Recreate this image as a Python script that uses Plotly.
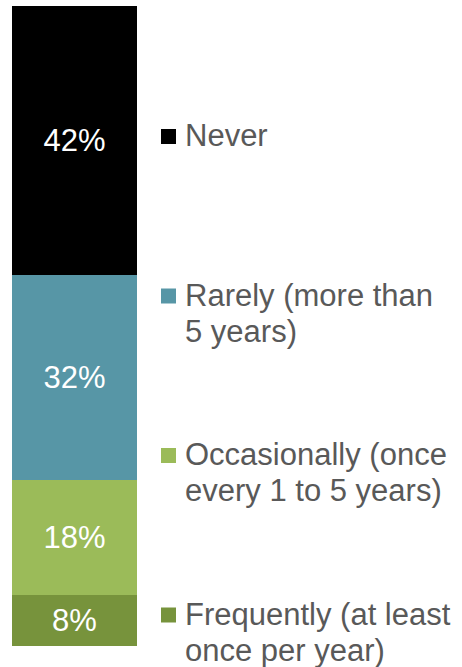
import plotly.graph_objects as go

# Data (bottom to top)
categories = ["Frequently (at least\nonce per year)",
              "Occasionally (once\nevery 1 to 5 years)",
              "Rarely (more than\n5 years)",
              "Never"]
values = [8, 18, 32, 42]
colors = ["#77933C", "#9BBB59", "#5796A6", "#000000"]
bar_labels = ["8%", "18%", "32%", "42%"]

W, H = 462, 667
ML, MR, MT, MB = 12, 0, 6, 21
PW, PH = W - ML - MR, H - MT - MB

def px_x(px):
    return (px - ML) / PW

def px_y(py):
    return (H - MB - py) / PH

fig = go.Figure()
for cat, v, c, lab in zip(categories, values, colors, bar_labels):
    fig.add_trace(go.Bar(
        x=[0], y=[v], name=cat.replace("\n", " "),
        marker=dict(color=c, line=dict(width=0)),
        width=1,
        text=[lab], textposition="inside", insidetextanchor="middle",
        constraintext="none",
        textfont=dict(color="white", size=31, family="Liberation Sans, Arial"),
        showlegend=False,
    ))

# Legend entries (top to bottom), evenly spaced
legend_items = list(zip(categories, colors))[::-1]
annotations = []
shapes = []
first_center = 136.5
step = 159.5
sq = 15
line_gap = 36
for i, (cat, c) in enumerate(legend_items):
    cy = first_center + i * step
    shapes.append(dict(type="rect", xref="paper", yref="paper",
                       x0=px_x(161), x1=px_x(161 + sq),
                       y0=px_y(cy - sq / 2), y1=px_y(cy + sq / 2),
                       fillcolor=c, line=dict(width=0)))
    for j, line in enumerate(cat.split("\n")):
        annotations.append(dict(
            text=line, xref="paper", yref="paper",
            x=px_x(183), y=px_y(cy - 1 + j * line_gap),
            xanchor="left", yanchor="middle", showarrow=False,
            font=dict(size=31, color="#595959", family="Liberation Sans, Arial"),
        ))

fig.update_layout(
    width=W, height=H,
    margin=dict(l=ML, r=MR, t=MT, b=MB, pad=0),
    barmode="stack",
    plot_bgcolor="white", paper_bgcolor="white",
    xaxis=dict(domain=[0, 125 / PW], range=[-0.5, 0.5], visible=False,
               fixedrange=True),
    yaxis=dict(range=[0, 100], visible=False, fixedrange=True),
    annotations=annotations,
    shapes=shapes,
    bargap=0,
)

fig.write_html("out.html")
